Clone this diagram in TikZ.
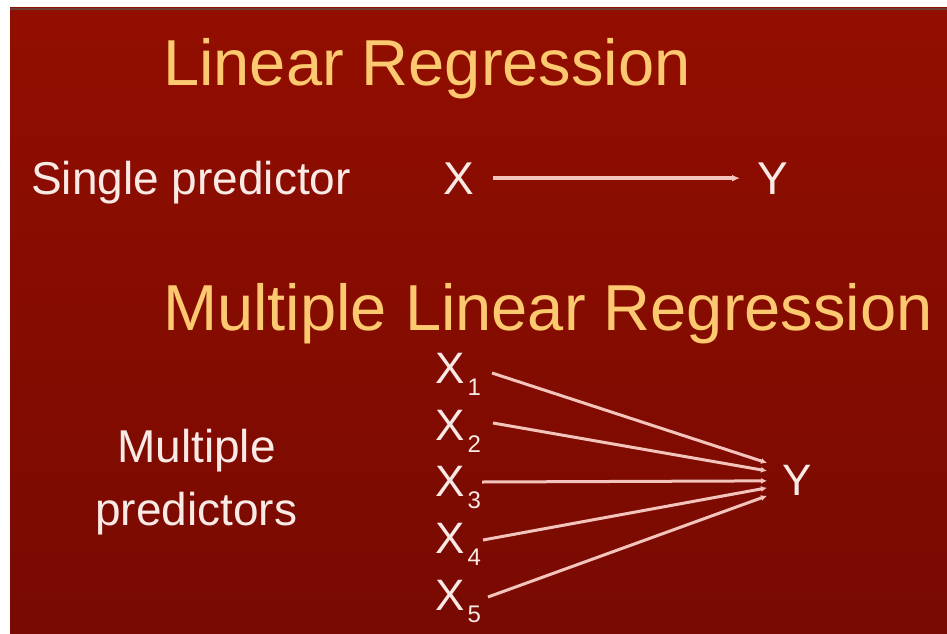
\documentclass[tikz,border=0pt]{standalone}
\usepackage{fontspec}
\setmainfont{Liberation Sans}
\usetikzlibrary{arrows.meta}
\definecolor{bgtop}{RGB}{146,14,0}
\definecolor{bgbot}{RGB}{120,10,2}
\definecolor{titlecol}{RGB}{252,200,112}
\definecolor{txtcol}{RGB}{250,234,230}
\definecolor{linecol}{RGB}{242,196,188}
\definecolor{edgecol}{RGB}{110,60,52}
\tikzset{
  title/.style={anchor=base west, inner sep=0pt, text=titlecol, font=\fontsize{65}{78}\selectfont},
  label/.style={anchor=base west, inner sep=0pt, text=txtcol, font=\fontsize{46}{55}\selectfont},
  var/.style={anchor=base west, inner sep=0pt, text=txtcol, font=\fontsize{44}{52}\selectfont},
  link/.style={draw=linecol, line width=3pt, -{Latex[length=6pt,width=6pt]}},
}
\newcommand{\xsub}[1]{X\kern3pt\raisebox{-12pt}{\fontsize{24}{28}\selectfont #1}}
\begin{document}
\begin{tikzpicture}[x=1pt,y=-1pt]
\useasboundingbox (0,0) rectangle (947,634);
\fill[white] (0,0) rectangle (947,634);
\shade[top color=bgtop, bottom color=bgbot] (10,8) rectangle (947,634);
\draw[edgecol, line width=1.5pt] (10,9) -- (947,9);

\node[title] (t1) at (163,85) {Linear Regression};
\node[label] (sp) at (31,194) {Single predictor};
\node[label] (x) at (443,194) {X};
\node[label] (y) at (757,194) {Y};
\draw[draw=linecol, line width=3.5pt, -{Latex[length=8pt,width=7pt]}, shorten <=19pt, shorten >=17pt] (x.east) -- (y.west);

\node[title] (t2) at (163,330) {Multiple Linear Regression};
\node[label] (mp1) at (117,462) {Multiple};
\node[label] (mp2) at (95,525) {predictors};

\node[var] (x1) at (435,383) {\xsub{1}};
\node[var] (x2) at (435,440) {\xsub{2}};
\node[var] (x3) at (435,496) {\xsub{3}};
\node[var] (x4) at (435,553) {\xsub{4}};
\node[var] (x5) at (435,610) {\xsub{5}};
\node[var] (yy) at (782,495) {Y};

\draw[link] ([shift={(57,-10)}]x1.base west) -- ([shift={(-15,-17)}]yy.west);
\draw[link] ([shift={(58,-17)}]x2.base west) -- ([shift={(-15,-9)}]yy.west);
\draw[link] ([shift={(47,-14)}]x3.base west) -- ([shift={(-15,1)}]yy.west);
\draw[link] ([shift={(48,-13)}]x4.base west) -- ([shift={(-15,8)}]yy.west);
\draw[link] ([shift={(53,-13)}]x5.base west) -- ([shift={(-15,16)}]yy.west);
\end{tikzpicture}
\end{document}
